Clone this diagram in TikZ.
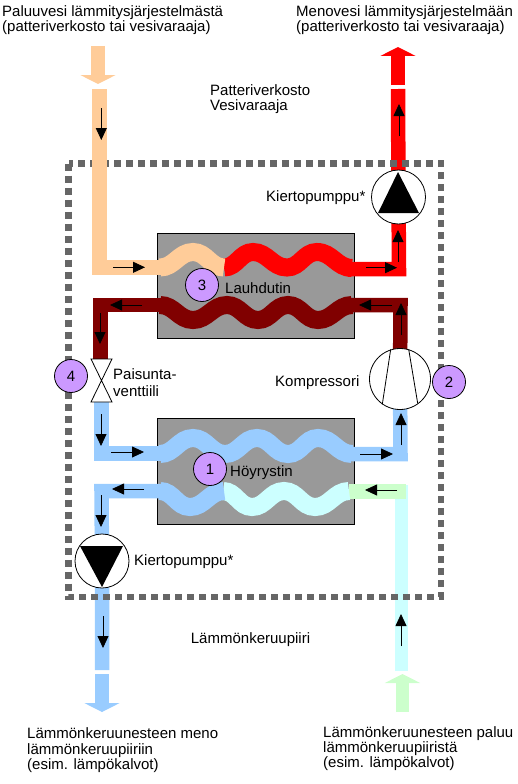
\documentclass[tikz,border=0pt]{standalone}
\usepackage{fontspec}
\setmainfont{Liberation Sans}
\usetikzlibrary{arrows.meta}
\definecolor{peach}{HTML}{FFCC99}
\definecolor{hotred}{HTML}{FF0000}
\definecolor{darkred}{HTML}{800000}
\definecolor{coldblue}{HTML}{99CCFF}
\definecolor{paleblue}{HTML}{CCFFFF}
\definecolor{palegreen}{HTML}{CCFFCC}
\definecolor{lilac}{HTML}{CC99FF}
\begin{document}
\begin{tikzpicture}[
x=1pt, y=-1pt,
every node/.style={font=\fontsize{15}{15}\selectfont, inner sep=0pt},
caption/.style={anchor=west, align=left},
exchanger/.style={draw=black, line width=0.8pt, fill=black!40, minimum width=197pt},
pipe/.style={line width=14.5pt},
wave/.style={line width=18pt},
swing/.style={out=0, in=180},
swingback/.style={out=180, in=0},
flow/.style={line width=0.8pt, -{Triangle[length=12pt,width=11pt]}},
bigflow/.style={line width=14pt, -{Triangle[length=9pt,width=35pt]}},
number/.style={circle, draw=black, line width=0.8pt, fill=lilac, minimum size=33pt},
pump/.style={circle, draw=black, line width=0.8pt, fill=white, minimum size=54pt},
boundary/.style={draw=black!60, line width=6.5pt, dash pattern=on 7pt off 5pt}
]

\useasboundingbox (0,0) rectangle (518,784);

\coordinate (pump-top-pos) at (398.5,197);
\coordinate (pump-bottom-pos) at (102,561);
\coordinate (compressor-pos) at (400,379);
\coordinate (valve-in) at (100.5,360);
\coordinate (valve-out) at (101.5,401);

\node[exchanger, minimum height=105pt] (condenser) at (255.5,285.5) {};
\node[exchanger, minimum height=106pt] (evaporator) at (255.5,471) {};

% hot side
\draw[pipe,hotred] (398,89) -- (pump-top-pos);
\draw[bigflow,hotred] (398,85) -- (398,47);
\draw[pipe,hotred] (pump-top-pos) -- (399,269) -- (350,269);
\draw[wave,hotred] (224,267.5) to[swing] (253,252) to[swing] (287,267.5) to[swing] (317,252) to[swing] (352,268);

% refrigerant
\draw[pipe,darkred] (compressor-pos) -- (400.5,305) -- (350,305);
\draw[wave,darkred] (352,305) to[swingback] (318,320) to[swingback] (288,305) to[swingback] (258,320) to[swingback] (227,305) to[swingback] (193,320) to[swingback] (160,305);
\draw[pipe,darkred] (162,305) -- (100.5,305) -- (valve-in);
\draw[pipe,coldblue] (valve-out) -- (101.5,453.5) -- (162,453.5);
\draw[wave,coldblue] (160,454) to[swing] (193,438) to[swing] (225,454) to[swing] (257,438) to[swing] (288,454) to[swing] (318,438) to[swing] (352,454);
\draw[pipe,coldblue] (350,454) -- (400.5,454) -- (compressor-pos);

% cold side
\draw[line width=13pt,paleblue] (401.5,671) -- (401.5,485);
\draw[line width=15pt,palegreen] (349,491.5) -- (406,491.5);
\draw[wave,paleblue] (349,491) to[swingback] (315,507) to[swingback] (284,491) to[swingback] (252,507) to[swingback] (223,491);
\draw[wave,coldblue] (224,491) to[swingback] (190,507) to[swingback] (160,491);
\draw[pipe,coldblue] (162,491) -- (101.5,491) -- (pump-bottom-pos) -- (102,670);
\draw[bigflow,coldblue] (102,674) -- (102,712);
\draw[line width=13pt,-{Triangle[length=9pt,width=35pt]},palegreen] (402.5,712) -- (402.5,674);

\draw[boundary] (68.5,163.5) rectangle (441,597);

% return from the heating system
\draw[bigflow,peach] (98,46) -- (98,84);
\draw[pipe,peach] (99.5,89) -- (99.5,267.5) -- (162,267.5);
\draw[wave,peach] (160,267.5) to[swing] (193,252) to[swing] (224,267.5);

\node[pump] (pump-top) at (pump-top-pos) {};
\fill (398,172) -- (378,213) -- (419,213) -- cycle;
\node[pump] (pump-bottom) at (pump-bottom-pos) {};
\fill (102,587) -- (80,546) -- (123,546) -- cycle;
\node[circle, draw=black, line width=0.8pt, fill=white, minimum size=61pt] (compressor) at (compressor-pos) {};
\draw[line width=0.8pt] (390.7,349.3) -- (382.3,404.3);
\draw[line width=0.8pt] (408.7,349.3) -- (417.7,403.3);
\draw[line width=0.8pt, fill=white] (91,359) -- (112,359) -- (91,402) -- (112,402) -- cycle;

\draw[flow] (101.3,108) -- (101.3,140);
\draw[flow] (113,267.3) -- (145,267.3);
\draw[flow] (399,136) -- (399,104);
\draw[flow] (398,262) -- (398,230);
\draw[flow] (366,267.7) -- (397,267.7);
\draw[flow] (142,305) -- (110,305);
\draw[flow] (100,313) -- (100,344);
\draw[flow] (392,305) -- (359,305);
\draw[flow] (401,335) -- (401,303);
\draw[flow] (101,414) -- (101,446);
\draw[flow] (111,452) -- (144,452);
\draw[flow] (360,454) -- (393,454);
\draw[flow] (401,445) -- (401,413);
\draw[flow] (397,490) -- (365,490);
\draw[flow] (144,489) -- (112,489);
\draw[flow] (101,495) -- (101,527);
\draw[flow] (103,616) -- (103,648);
\draw[flow] (401,646) -- (401,614);

\node[number] (num-1) at (210,469) {1};
\node[number] (num-2) at (449,382) {2};
\node[number] (num-3) at (202,285) {3};
\node[number] (num-4) at (71,376) {4};

\node[caption] (text-return) at (2,20) {Paluuvesi lämmitysjärjestelmästä\\(patteriverkosto tai vesivaraaja)};
\node[caption] (text-supply) at (296,20) {Menovesi lämmitysjärjestelmään\\(patteriverkosto tai vesivaraaja)};
\node[caption] (text-circuit) at (210,99.5) {Patteriverkosto\\Vesivaraaja};
\node[caption] (text-pump-top) at (266,198) {Kiertopumppu*};
\node[caption] (text-condenser) at (225,288) {Lauhdutin};
\node[caption] (text-valve) at (113,382.5) {Paisunta-\\[2pt]venttiili};
\node[caption] (text-compressor) at (275,383) {Kompressori};
\node[caption] (text-evaporator) at (230,473) {Höyrystin};
\node[caption] (text-pump-bottom) at (134,562) {Kiertopumppu*};
\node[caption] (text-collector) at (190.7,640) {Lämmönkeruupiiri};
\node[caption] (text-out) at (27,750.5) {Lämmönkeruunesteen meno\\[1pt]lämmönkeruupiiriin\\(esim. lämpökalvot)};
\node[caption] (text-in) at (323,749) {Lämmönkeruunesteen paluu\\lämmönkeruupiiristä\\(esim. lämpökalvot)};
\end{tikzpicture}
\end{document}
